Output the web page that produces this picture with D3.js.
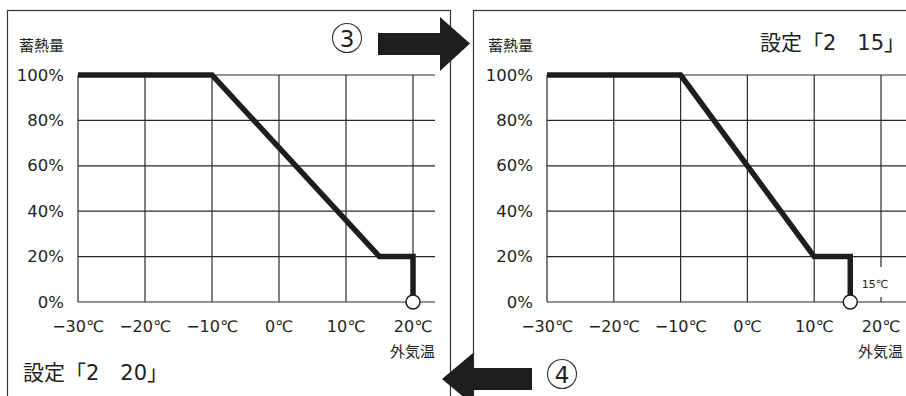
<!DOCTYPE html>
<html><head><meta charset="utf-8">
<script src="https://cdn.jsdelivr.net/npm/d3@7"></script>
<style>
html,body{margin:0;padding:0;background:#fff;}
svg{display:block;}
text{font-family:"DejaVu Sans","Noto Sans CJK JP",sans-serif;fill:#231f20;}
text.cjk{font-family:"Noto Sans CJK JP",sans-serif;}
</style></head>
<body>
<svg id="chart" width="906" height="396"></svg>
<script>
// ---- data ----
const xTicks = [-30, -20, -10, 0, 10, 20];
const xTickLabels = ["−30℃", "−20℃", "−10℃", "0℃", "10℃", "20℃"];
const yTicks = [0, 20, 40, 60, 80, 100];
const yTickLabels = ["0%", "20%", "40%", "60%", "80%", "100%"];
const leftTemps = [-30, -10, 15, 20, 20];
const leftHeat = [100, 100, 20, 20, 0];
const rightTemps = [-30, -10, 10, 15.4, 15.4];
const rightHeat = [100, 100, 20, 20, 0];
const leftTitle = "設定「2　20」";
const rightTitle = "設定「2　15」";
const yAxisTitle = "蓄熱量";
const xAxisTitle = "外気温";
const rightMarkerLabel = "15℃";

const svg = d3.select("#chart");
const ink = "#1e1e1e";

// panel frames
svg.append("rect").attr("x", 7.5).attr("y", 10.5).attr("width", 443).attr("height", 420)
  .attr("fill", "none").attr("stroke", "#333").attr("stroke-width", 1.2);
svg.append("rect").attr("x", 473.5).attr("y", 10.5).attr("width", 460).attr("height", 420)
  .attr("fill", "none").attr("stroke", "#333").attr("stroke-width", 1.2);

function panel(x0, x1, extend, temps, heat) {
  const x = d3.scaleLinear().domain([-30, 20]).range([x0, x1]);
  const y = d3.scaleLinear().domain([0, 100]).range([302, 75]);
  const g = svg.append("g");
  g.selectAll(".hg").data(yTicks).join("line")
    .attr("x1", x(-30)).attr("x2", x(20) + extend)
    .attr("y1", d => y(d)).attr("y2", d => y(d))
    .attr("stroke", "#2a2a2a").attr("stroke-width", 1.2);
  g.selectAll(".vg").data(xTicks).join("line")
    .attr("x1", d => x(d)).attr("x2", d => x(d))
    .attr("y1", y(0)).attr("y2", y(100))
    .attr("stroke", "#2a2a2a").attr("stroke-width", 1.2);
  g.selectAll(".yl").data(yTicks).join("text")
    .attr("x", x(-30) - 14).attr("y", d => y(d))
    .attr("text-anchor", "end").attr("dominant-baseline", "central")
    .attr("font-size", 16.5)
    .text((d, i) => yTickLabels[i]);
  g.selectAll(".xl").data(xTicks).join("text")
    .attr("x", d => x(d)).attr("y", 326)
    .attr("text-anchor", "middle").attr("dominant-baseline", "central")
    .attr("font-size", 16)
    .text((d, i) => xTickLabels[i]);
  g.append("text").attr("class", "cjk").attr("x", x(-30) - 59).attr("y", 44)
    .attr("dominant-baseline", "central").attr("font-size", 15).text(yAxisTitle);
  g.append("text").attr("class", "cjk").attr("x", x(20) + 22).attr("y", 350)
    .attr("text-anchor", "end").attr("dominant-baseline", "central")
    .attr("font-size", 15).text(xAxisTitle);
  const pts = temps.map((t, i) => [t, heat[i]]);
  const line = d3.line().x(d => x(d[0])).y(d => y(d[1]));
  g.append("path").attr("d", line(pts)).attr("fill", "none")
    .attr("stroke", ink).attr("stroke-width", 5.5)
    .attr("stroke-linejoin", "miter").attr("stroke-linecap", "butt");
  const last = pts[pts.length - 1];
  g.append("circle").attr("cx", x(last[0])).attr("cy", y(last[1])).attr("r", 7)
    .attr("fill", "#fff").attr("stroke", ink).attr("stroke-width", 1.5);
  return {x, y, g};
}

panel(78, 413, 22, leftTemps, leftHeat);
const right = panel(547, 881, 28, rightTemps, rightHeat);

// 15℃ marker label on the right panel
right.g.append("rect").attr("x", right.x(20) - 20).attr("y", 267).attr("width", 28).attr("height", 30)
  .attr("fill", "#fff");
right.g.append("text").attr("x", right.x(20) - 6).attr("y", 284)
  .attr("text-anchor", "middle").attr("dominant-baseline", "central")
  .attr("font-size", 11).text(rightMarkerLabel);

// titles
svg.append("text").attr("x", 23).attr("y", 373).attr("dominant-baseline", "central")
  .attr("font-size", 21).text(leftTitle);
svg.append("text").attr("x", 905).attr("y", 43).attr("text-anchor", "end")
  .attr("dominant-baseline", "central").attr("font-size", 21).text(rightTitle);

// arrows
svg.append("path").attr("d", "M378,33 L440,33 L440,17 L470,43.5 L440,71 L440,55 L378,55 Z")
  .attr("fill", ink);
svg.append("path").attr("d", "M532,368 L473,368 L473,353 L442,379 L473,405 L473,390 L532,390 Z")
  .attr("fill", ink);

// circled numbers
function circled(cx, cy, t) {
  svg.append("circle").attr("cx", cx).attr("cy", cy).attr("r", 14.5)
    .attr("fill", "#fff").attr("stroke", "#333").attr("stroke-width", 1.1);
  svg.append("text").attr("x", cx).attr("y", cy + 1).attr("text-anchor", "middle")
    .attr("dominant-baseline", "central").attr("font-size", 23)
    .attr("font-family", "'Liberation Sans Narrow','DejaVu Sans Condensed',sans-serif")
    .text(t);
}
circled(347, 38, "3");
circled(562, 374, "4");
</script>
</body></html>
